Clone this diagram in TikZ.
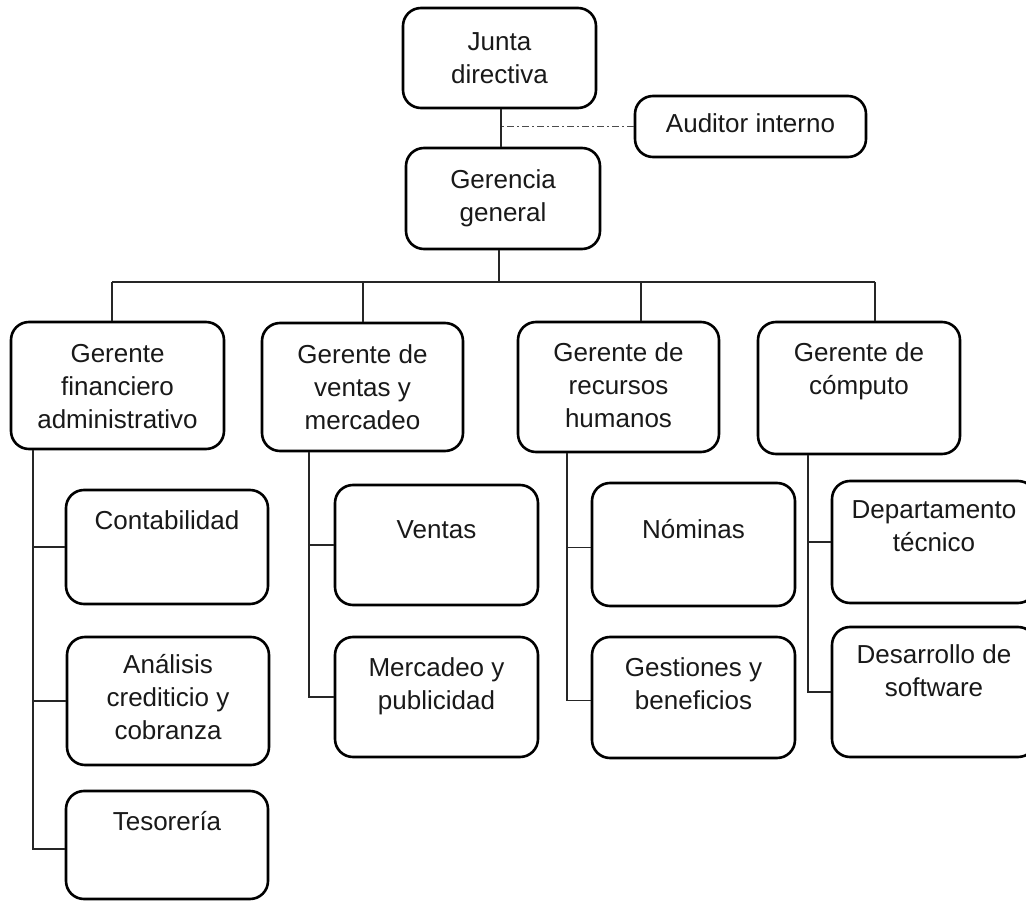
\documentclass[tikz,border=0pt]{standalone}
\usepackage{fontspec}
\setmainfont{Liberation Sans}
\usetikzlibrary{calc}

\tikzset{
  unitbox/.style={draw=black, line width=2.6pt, rounded corners=18pt, fill=white,
    inner sep=0pt, minimum width=#1},
  txt/.style={font=\fontsize{26}{33}\selectfont, align=center, inner sep=0pt,
    anchor=base, text=black!90},
  link/.style={draw=black!85, line width=1.7pt},
  audit/.style={draw=black!70, line width=1.3pt,
    dash pattern=on 7pt off 3pt on 2pt off 3pt},
}
% place a box by centre, width and height (all in px units)
\newcommand{\orgbox}[5]{\node[unitbox=#4pt, minimum height=#5pt] (#1) at (#2,#3) {};}
% label text; the offset gives the baseline of its last line below the top edge
\newcommand{\orglabel}[3]{\node[txt] (#1-t) at ($(#1.north)+(0,#2)$) {#3};}

\begin{document}
\begin{tikzpicture}[x=1pt, y=-1pt]
\useasboundingbox (0,0) rectangle (1026,901);
\clip (0,0) rectangle (1026,901);
\fill[white] (0,0) rectangle (1026,901);

% top of the chart
\orgbox{junta}{499.5}{58}{193}{100}
\orgbox{audit}{750.5}{126.5}{231}{61}
\orgbox{ger}{503}{198.5}{194}{101}

% managers
\orgbox{gf}{117.5}{385.5}{213}{127}
\orgbox{gv}{362.5}{387}{201}{128}
\orgbox{gr}{618.5}{387}{201}{130}
\orgbox{gc}{859}{388}{202}{132}

% departments
\orgbox{con}{167}{547}{202}{114}
\orgbox{ana}{168}{701}{202}{128}
\orgbox{tes}{167}{845}{202}{108}
\orgbox{ven}{436.5}{545}{203}{120}
\orgbox{mer}{436.5}{697}{203}{120}
\orgbox{nom}{693.5}{544.5}{203}{123}
\orgbox{ges}{693.5}{697.5}{203}{121}
\orgbox{dep}{934}{542}{204}{122}
\orgbox{des}{934}{692}{204}{130}

% labels
\orglabel{junta}{77}{Junta\\directiva}
\orglabel{audit}{38}{Auditor interno}
\orglabel{ger}{75}{Gerencia\\general}
\orglabel{gf}{108}{Gerente\\financiero\\administrativo}
\orglabel{gv}{108}{Gerente de\\ventas y\\mercadeo}
\orglabel{gr}{107}{Gerente de\\recursos\\humanos}
\orglabel{gc}{74}{Gerente de\\cómputo}
\orglabel{con}{41}{Contabilidad}
\orglabel{ana}{104}{Análisis\\crediticio y\\cobranza}
\orglabel{tes}{41}{Tesorería}
\orglabel{ven}{55}{Ventas}
\orglabel{mer}{74}{Mercadeo y\\publicidad}
\orglabel{nom}{57}{Nóminas}
\orglabel{ges}{74}{Gestiones y\\beneficios}
\orglabel{dep}{72}{Departamento\\técnico}
\orglabel{des}{71}{Desarrollo de\\software}

% board to general management, with the internal auditor off to the side
\coordinate (jx) at (501,0);
\draw[link] (junta.south -| jx) -- (ger.north -| jx);
\draw[audit] (audit.west) -- (audit.west -| jx);

% bus to the four managers
\coordinate (busL) at (112,282);
\coordinate (busR) at (875,282);
\coordinate (gx) at (499,0);
\draw[link] (ger.south -| gx) -- (busL -| gx);
\draw[link] (busL) -- (busR);
\draw[link] (busL) -- (busL |- gf.north);
\draw[link] (363,282) -- (gv.north -| 363,0);
\draw[link] (641,282) -- (gr.north -| 641,0);
\draw[link] (busR) -- (busR |- gc.north);

% finance spine
\coordinate (sF) at (33,0);
\draw[link] (gf.south -| sF) |- ([yshift=-4pt]tes.west);
\draw[link] (sF |- con.west) -- (con.west);
\draw[link] (sF |- ana.west) -- (ana.west);

% sales spine
\coordinate (sV) at (309,0);
\draw[link] (gv.south -| sV) |- (mer.west);
\draw[link] (sV |- ven.west) -- (ven.west);

% human resources spine
\coordinate (sR) at (567,0);
\draw[link] (gr.south -| sR) |- ([yshift=-3pt]ges.west);
\draw[link] ([yshift=-3pt]sR |- nom.west) -- ([yshift=-3pt]nom.west);

% computing spine
\coordinate (sC) at (808,0);
\draw[link] (gc.south -| sC) |- (des.west);
\draw[link] (sC |- dep.west) -- (dep.west);
\end{tikzpicture}
\end{document}
